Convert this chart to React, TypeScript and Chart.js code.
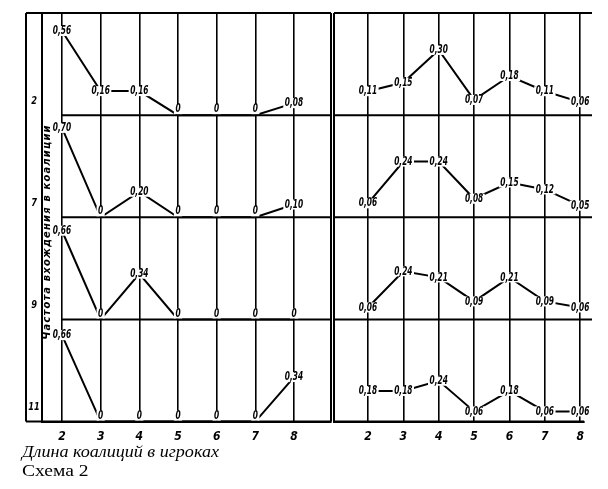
import React, { useEffect, useRef } from 'react';
import { Chart, registerables } from 'chart.js';

Chart.register(...registerables);

// ---- data ----
const categories = [2, 3, 4, 5, 6, 7, 8];
const rowLabels = ['2', '7', '9', '11'];

const leftRow2 = [0.56, 0.16, 0.16, 0, 0, 0, 0.08];
const leftRow7 = [0.7, 0, 0.2, 0, 0, 0, 0.1];
const leftRow9 = [0.66, 0, 0.34, 0, 0, 0, 0];
const leftRow11 = [0.66, 0, 0, 0, 0, 0, 0.34];

const rightRow2 = [0.11, 0.15, 0.3, 0.07, 0.18, 0.11, 0.06];
const rightRow7 = [0.06, 0.24, 0.24, 0.08, 0.15, 0.12, 0.05];
const rightRow9 = [0.06, 0.24, 0.21, 0.09, 0.21, 0.09, 0.06];
const rightRow11 = [0.18, 0.18, 0.24, 0.06, 0.18, 0.06, 0.06];

const yTitle = 'Частота вхождения в коалиции';
const xTitle = 'Длина коалиций в игроках';
const caption = 'Схема 2';

// per-row scale ceilings (axis settings)
const leftMax = [0.68, 0.8, 0.76, 0.78];
const rightMax = [0.47, 0.44, 0.51, 0.6];

const fmt = (v: number) => (v === 0 ? '0' : v.toFixed(2).replace('.', ','));

const labelFont = 'italic bold 12px "DejaVu Sans"';
const squeeze = 0.62;

const valueLabels = {
  id: 'valueLabels',
  afterDatasetsDraw(chart: any) {
    const ctx = chart.ctx;
    ctx.save();
    ctx.font = labelFont;
    ctx.textAlign = 'center';
    ctx.textBaseline = 'middle';
    chart.data.datasets.forEach((ds: any, di: number) => {
      const meta = chart.getDatasetMeta(di);
      meta.data.forEach((pt: any, i: number) => {
        const v = ds.data[i].y;
        const t = fmt(v);
        const w = ctx.measureText(t).width * squeeze;
        const cx = pt.x;
        const cy = pt.y - (v === 0 ? 6 : 0);
        ctx.fillStyle = '#fff';
        ctx.fillRect(cx - w / 2 - 1.5, cy - 5, w + 3, 10);
        ctx.fillStyle = '#000';
        ctx.save();
        ctx.translate(cx, cy);
        ctx.scale(squeeze, 1);
        ctx.fillText(t, 0, 0);
        ctx.restore();
      });
    });
    ctx.restore();
  },
};

const frame = {
  id: 'frame',
  beforeDatasetsDraw(chart: any, _args: any, opts: any) {
    const ctx = chart.ctx;
    const { left, right, top, bottom } = chart.chartArea;
    const side = opts.side;
    const xs = chart.scales.x;
    ctx.save();
    ctx.strokeStyle = '#000';
    ctx.lineWidth = 2;
    ctx.beginPath();
    const outer = side === 'left' ? left - 16 : left;
    const rEdge = side === 'left' ? right : chart.width;
    ctx.moveTo(outer, top);
    ctx.lineTo(rEdge, top);
    ctx.moveTo(outer, bottom);
    ctx.lineTo(right, bottom);
    ctx.moveTo(outer, top);
    ctx.lineTo(outer, bottom);
    ctx.moveTo(left, top);
    ctx.lineTo(left, bottom);
    if (side === 'left') {
      ctx.moveTo(right, top);
      ctx.lineTo(right, bottom);
    }
    const startX = side === 'left' ? xs.getPixelForValue(categories[0]) : left;
    for (let r = 0; r < 3; r++) {
      const s = chart.scales['r' + r];
      ctx.moveTo(startX, s.bottom);
      ctx.lineTo(rEdge, s.bottom);
    }
    ctx.stroke();
    if (side === 'left') {
      ctx.fillStyle = '#000';
      ctx.font = 'italic bold 11px "DejaVu Sans"';
      ctx.textAlign = 'center';
      ctx.textBaseline = 'middle';
      for (let r = 0; r < 4; r++) {
        const s = chart.scales['r' + r];
        ctx.save();
        ctx.translate(left - 8, s.bottom - 14);
        ctx.scale(0.75, 1);
        ctx.fillText(rowLabels[r], 0, 0);
        ctx.restore();
      }
      ctx.save();
      ctx.font = 'italic bold 11px "DejaVu Sans Condensed"';
      (ctx as any).letterSpacing = '1.2px';
      ctx.translate(left + 5, 232);
      ctx.rotate(-Math.PI / 2);
      ctx.fillText(yTitle, 0, 0);
      ctx.restore();
    }
    ctx.restore();
  },
};

function buildConfig(rows: number[][], maxes: number[], xmin: number, xmax: number, side: string, padLeft: number, padRight: number): any {
  const scales: any = {
    x: {
      type: 'linear',
      min: xmin,
      max: xmax,
      afterBuildTicks: (s: any) => {
        s.ticks = categories.map((v) => ({ value: v }));
      },
      grid: { color: '#000', lineWidth: 1.6, drawTicks: false },
      border: { color: '#000', width: 2 },
      ticks: {
        color: '#000',
        padding: 8,
        font: { family: '"DejaVu Sans Condensed"', size: 12, style: 'italic', weight: 'bold' },
        callback: (v: any) => String(v),
      },
    },
  };
  // define bottom row first so the top row is stacked on top
  for (let r = 3; r >= 0; r--) {
    scales['r' + r] = {
      type: 'linear',
      display: true,
      position: 'left',
      stack: 'rows',
      stackWeight: 1,
      offset: false,
      min: 0,
      max: maxes[r],
      grid: { display: false, drawTicks: false },
      border: { display: false },
      ticks: { display: false },
      title: { display: false },
    };
  }
  return {
    type: 'line',
    data: {
      datasets: rows.map((vals, r) => ({
        data: categories.map((c, i) => ({ x: c, y: vals[i] })),
        yAxisID: 'r' + r,
        borderColor: '#000',
        borderWidth: 2,
        pointRadius: 0,
        tension: 0,
        fill: false,
        clip: false,
      })),
    },
    options: {
      responsive: false,
      animation: false,
      layout: { padding: { left: padLeft, right: padRight, top: 13, bottom: 0 } },
      plugins: {
        legend: { display: false },
        tooltip: { enabled: false },
        title: { display: false },
        frame: { side },
      },
      scales,
    },
    plugins: [frame, valueLabels],
  };
}

export default function App() {
  const leftRef = useRef<HTMLCanvasElement>(null);
  const rightRef = useRef<HTMLCanvasElement>(null);

  useEffect(() => {
    const left = new Chart(
      leftRef.current as HTMLCanvasElement,
      buildConfig([leftRow2, leftRow7, leftRow9, leftRow11], leftMax, 1.483, 8.957, 'left', 42, 1)
    );
    const right = new Chart(
      rightRef.current as HTMLCanvasElement,
      buildConfig([rightRow2, rightRow7, rightRow9, rightRow11], rightMax, 1.041, 8.109, 'right', 2, 0)
    );
    return () => {
      left.destroy();
      right.destroy();
    };
  }, []);

  return (
    <div style={{ position: 'fixed', left: 0, top: 0, width: 608, height: 489, background: '#fff', overflow: 'hidden' }}>
      <canvas ref={leftRef} width={332} height={452} style={{ position: 'absolute', left: 0, top: 0 }} />
      <canvas ref={rightRef} width={260} height={452} style={{ position: 'absolute', left: 332, top: 0 }} />
      <div
        style={{
          position: 'absolute',
          left: 22,
          top: 442,
          font: 'italic 16px "Liberation Serif"',
          lineHeight: '20px',
          whiteSpace: 'nowrap',
          transform: 'scaleX(1.13)',
          transformOrigin: 'left top',
        }}
      >
        {xTitle}
      </div>
      <div
        style={{
          position: 'absolute',
          left: 22,
          top: 461,
          font: '17px "Liberation Serif"',
          lineHeight: '20px',
          whiteSpace: 'nowrap',
          transform: 'scaleX(1.15)',
          transformOrigin: 'left top',
        }}
      >
        {caption}
      </div>
    </div>
  );
}
